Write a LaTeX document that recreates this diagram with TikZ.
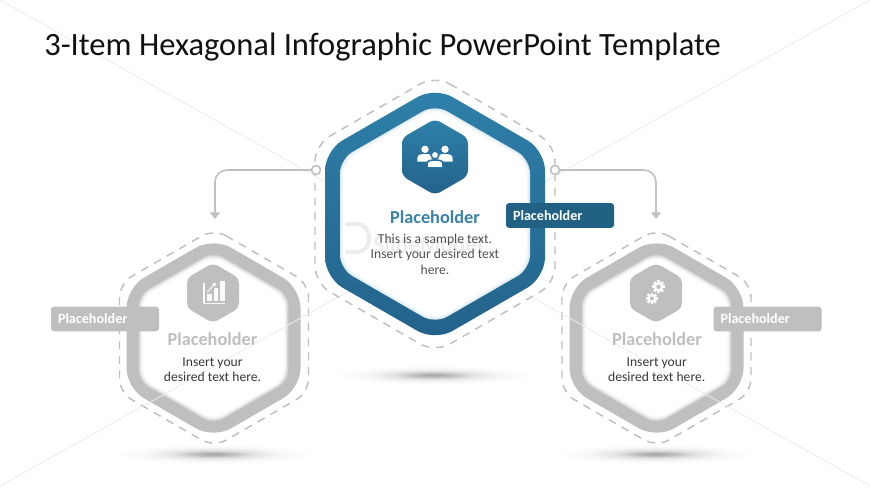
\documentclass[tikz,border=0pt]{standalone}
\usepackage{fontspec}
\setmainfont{Carlito}
\usepackage{xcolor}
\definecolor{bandtop}{RGB}{46,128,170}
\definecolor{bandbot}{RGB}{35,98,138}
\definecolor{tealhead}{RGB}{58,130,168}
\definecolor{tagblue}{RGB}{33,98,132}
\definecolor{softgray}{RGB}{191,191,191}
\definecolor{linegray}{RGB}{192,192,192}
\definecolor{markgray}{RGB}{236,236,236}
\usetikzlibrary{arrows.meta}
% hexagon: options, x, y, half width, corner cut
\newcommand{\hexpath}[5]{\path[#1,rounded corners=#5*0.75pt] (#2,{#3-1.1547*(#4)}) -- ({#2+(#4)},{#3-0.57735*(#4)}) -- ({#2+(#4)},{#3+0.57735*(#4)}) -- (#2,{#3+1.1547*(#4)}) -- ({#2-(#4)},{#3+0.57735*(#4)}) -- ({#2-(#4)},{#3-0.57735*(#4)}) -- cycle;}
% white inside of a ring with a soft inner edge
\newcommand{\hexglow}[6]{\foreach \d/\m in {0/#6,0.8/0.7*#6,1.6/0.45*#6,2.4/0.27*#6,3.2/0.13*#6,4/0.05*#6,4.8/0}{%
	\pgfmathsetmacro{\mm}{\m}\hexpath{fill=#5!\mm!white}{#1}{#2}{#3-\d}{#4}}}
\newcommand{\personicon}[4]{\path[#1] (#2,#3) circle[radius=3.9*#4];
	\path[#1] ({#2-8*#4},{#3+13*#4}) -- ({#2-8*#4},{#3+9*#4}) .. controls ({#2-8*#4},{#3+5.5*#4}) and ({#2-4*#4},{#3+5*#4}) .. (#2,{#3+5*#4}) .. controls ({#2+4*#4},{#3+5*#4}) and ({#2+8*#4},{#3+5.5*#4}) .. ({#2+8*#4},{#3+9*#4}) -- ({#2+8*#4},{#3+13*#4}) -- cycle;}
\newcommand{\gearicon}[3]{\foreach \a in {0,45,90,135}{\fill[white!92!softgray,rotate around={\a:(#1,#2)}] ({#1-#3*.24},{#2-#3*1.12}) rectangle ({#1+#3*.24},{#2+#3*1.12});}
	\fill[white!92!softgray] (#1,#2) circle[radius=#3*.82];
	\fill[softgray] (#1,#2) circle[radius=#3*.38];}
\pgfdeclareradialshading{floorshadow}{\pgfpoint{0bp}{0bp}}{color(0bp)=(black!36); color(4bp)=(black!27); color(10bp)=(black!11); color(17bp)=(black!3); color(25bp)=(white); color(50bp)=(white)}

\begin{document}
\begin{tikzpicture}
		[x=0.75pt,y=-0.75pt,
		dashring/.style={draw=linegray,line width=1.1pt,dash pattern=on 6pt off 5pt},
		link/.style={draw=linegray,line width=1.2pt,rounded corners=9pt,-{Triangle[width=7.5pt,length=5pt]}},
		linkdot/.style={circle,draw=linegray,line width=1.1pt,fill=white,minimum size=6.6pt,inner sep=0pt},
		tagbox/.style={fill=#1,rounded corners=2.2pt,minimum height=18.5pt,text width=70.5pt,inner xsep=5.25pt,inner ysep=0pt,
			text=white,font=\fontsize{10.6}{12}\selectfont\bfseries,align=left},
		headtext/.style={inner sep=0pt,anchor=base,font=\fontsize{13.7}{15}\selectfont\bfseries},
		bodytext/.style={inner sep=0pt,align=center,font=\fontsize{10.2}{11.6}\selectfont},
		floor/.style={shading=floorshadow}]
		\useasboundingbox (0,0) rectangle (870,489);
		\fill[white] (0,0) rectangle (870,489);

		% floor shadows
		\path[floor] (433,375) ellipse (101 and 10);
		\path[floor] (214,454) ellipse (101 and 10);
		\path[floor] (656,454) ellipse (101 and 10);

		% left and right rings
		\hexpath{dashring}{214}{338}{94.5}{14}
		\hexpath{dashring}{656.5}{338}{94.5}{14}
		\hexpath{fill=softgray}{213.5}{338}{87}{20}
		\hexpath{fill=softgray}{656.5}{338}{87}{20}
		\hexglow{213.5}{338}{75}{11}{black}{20}
		\hexglow{656.5}{338}{75}{11}{black}{20}

		% faint cross over the slide
		\draw[markgray,line width=0.6pt] (0,0) -- (870,486);
		\draw[markgray,line width=0.6pt] (0,486) -- (870,0);

		\node[inner sep=0pt,anchor=base west,text=black!93,font=\fontsize{24.4}{28}\selectfont] (title) at (44,55.7) {3-Item Hexagonal Infographic PowerPoint Template};

		% middle ring
		\hexpath{dashring}{435}{214}{120}{17}
		\hexpath{top color=bandtop,bottom color=bandbot}{435}{214}{110}{20}
		\hexglow{435}{214}{95}{14}{bandtop}{18}

		% links
		\node[linkdot] (dotl) at (316,170) {};
		\node[linkdot] (dotr) at (555,170) {};
		\coordinate (tipl) at (215,219);
		\coordinate (tipr) at (656,219);
		\draw[link] (dotl) -| (tipl);
		\draw[link] (dotr) -| (tipr);
		\node[linkdot] at (dotl) {};
		\node[linkdot] at (dotr) {};

		% watermark behind the middle text
		\draw[markgray,line width=3pt,line cap=round] (347,224) -- (356,224) .. controls (365,224) and (369,230) .. (369,238) .. controls (369,246) and (365,252) .. (356,252) -- (347,252);
		\node[inner sep=0pt,anchor=base west,text=markgray,font=\fontsize{17.5}{18}\selectfont\bfseries] (markname) at (373,252) {SlideModel};
		\node[inner sep=0pt,anchor=base west,text=markgray,font=\fontsize{6.5}{7}\selectfont] (markend) at (markname.base east) {.com};

		% icon hexagons
		\hexpath{top color=bandtop,bottom color=bandbot}{435}{157}{33}{6}
		\hexpath{fill=softgray}{213}{293}{26}{5}
		\hexpath{fill=softgray}{656}{293}{26}{5}

		% people
		\personicon{fill=white}{425}{149.3}{0.95}
		\personicon{fill=white}{445}{149.3}{0.95}
		\personicon{fill=white,draw=bandtop!65!bandbot,line width=1.2pt}{435}{155}{1}

		% bars
		\draw[white!92!softgray,line width=0.8pt] (204,282.7) -- (204,303.7) -- (225,303.7);
		\fill[white!92!softgray] (207.3,294.3) rectangle (212.3,301.3);
		\fill[white!92!softgray] (214,288) rectangle (218.3,301.3);
		\fill[white!92!softgray] (220,281.3) rectangle (225,301.3);
		\draw[white!92!softgray,line width=0.8pt,-{Triangle[width=3pt,length=2.6pt]}] (207.3,292) -- (216,282.7);

		% gears
		\gearicon{658.5}{286.8}{5.8}
		\gearicon{651.8}{298.5}{5.3}

		% texts
		\node[headtext,text=tealhead] (headc) at (435,223) {Placeholder};
		\node[bodytext,text=black!68] (bodyc) at (435,254.2) {This is a sample text.\\Insert your desired text\\here.};
		\node[headtext,text=softgray] (headl) at (212.5,345.7) {Placeholder};
		\node[bodytext,text=black!78] (bodyl) at (212.5,369.5) {Insert your\\desired text here.};
		\node[headtext,text=softgray] (headr) at (657,345.7) {Placeholder};
		\node[bodytext,text=black!78] (bodyr) at (656.7,369.5) {Insert your\\desired text here.};

		% tags
		\node[tagbox=tagblue] (tagc) at (560,215.5) {Placeholder};
		\node[tagbox=softgray] (tagl) at (105,319) {Placeholder};
		\node[tagbox=softgray] (tagr) at (767.5,319) {Placeholder};
	\end{tikzpicture}
\end{document}
